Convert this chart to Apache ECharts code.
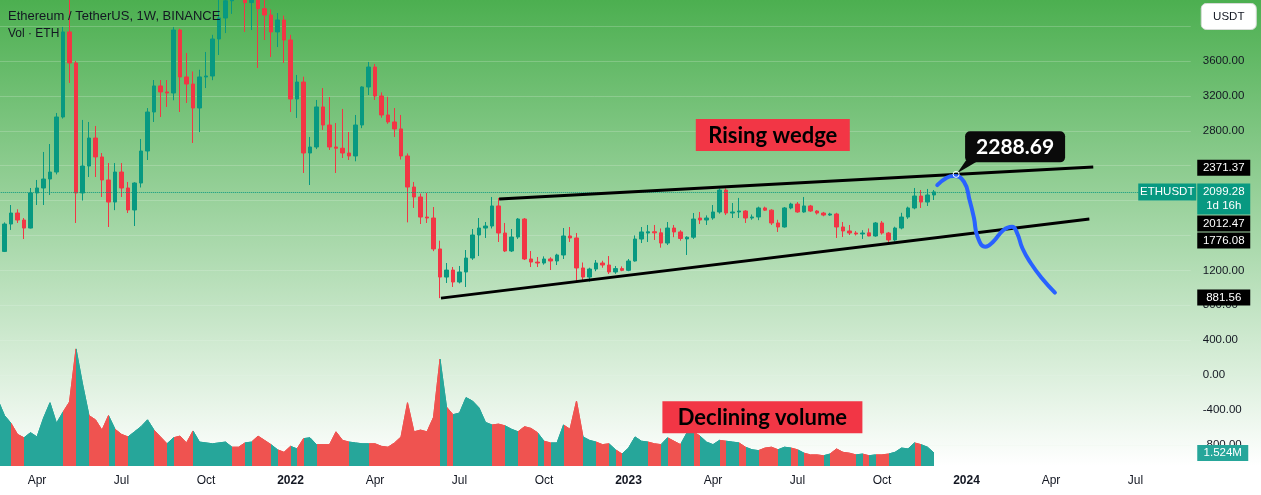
<!DOCTYPE html>
<html>
<head>
<meta charset="utf-8">
<script src="https://cdn.jsdelivr.net/npm/echarts@6/dist/echarts.min.js"></script>
<style>
html,body{margin:0;padding:0;background:#fff;}
#c{width:1261px;height:495px;background:linear-gradient(180deg,#4caf50 0px,#ffffff 466px,#ffffff 495px);}
</style>
</head>
<body>
<div id="c"></div>
<script>
// ---------------- DATA ----------------
const firstWeek = '2021-02-22';          // Monday of first weekly bar
const weekCount = 184;                    // weeks shown on the time axis (incl. empty future)
const opens = [1935,1417,1731,1857,1777,1685,2087,2144,2247,2327,
2958,3933,3577,2087,2396,2717,2500,2236,1983,2327,
2144,1892,2201,2568,3015,3314,3245,3233,3955,3417,
3336,3061,3417,3428,3852,4093,4290,4620,4570,4270,
4450,4200,4127,3933,4070,3841,3164,3359,2545,2614,
3073,2866,2614,2600,2545,2511,2866,3302,3531,3199,
2981,2901,2821,2511,2155,2041,1811,1800,1445,1123,
1203,1066,1181,1341,1605,1685,1708,1938,1628,1422,
1582,1788,1330,1295,1284,1330,1307,1376,1594,1571,
1227,1123,1215,1284,1261,1181,1220,1200,1307,1559,
1628,1642,1630,1513,1685,1640,1560,1580,1800,1777,
1800,1869,2120,1857,1869,1880,1800,1812,1915,1890,
1743,1697,1915,1960,1869,1938,1880,1857,1834,1846,
1697,1651,1628,1617,1630,1594,1743,1628,1548,1685,
1811,1915,2052,1983,2064];
const highs = [1940,1750,1949,1900,1800,2144,2236,2557,2648,3004,
3990,4372,3600,2924,2901,2855,2545,2430,2430,2430,
2213,2210,2706,3060,3382,3382,3382,3990,3970,3692,
3480,3500,3703,3900,4375,4460,4665,4868,4770,4550,
4780,4400,4190,4150,4120,3900,3440,3420,2729,3153,
3290,3187,2889,3050,2786,2981,3310,3589,3566,3240,
3190,3061,2981,2540,2213,2080,2087,1926,1540,1284,
1238,1250,1433,1674,1800,1754,2041,2030,1743,1674,
1800,1800,1422,1353,1360,1350,1390,1685,1697,1628,
1290,1230,1318,1310,1364,1250,1245,1330,1600,1697,
1720,1720,1680,1754,1720,1660,1590,1857,1869,1830,
1949,2140,2140,1972,2030,1890,1840,1930,1930,1900,
1780,1926,1975,1983,2041,1950,1890,1870,1860,1860,
1754,1720,1650,1660,1680,1754,1766,1640,1700,1860,
1930,2144,2121,2133,2121];
const lows = [1370,1410,1663,1743,1559,1680,1949,1949,2064,2300,
2940,3348,1743,2000,2270,2270,2041,1697,1890,2041,
1857,1708,2150,2465,2901,2958,3073,3150,3015,3119,
2660,2785,3290,3380,3669,3920,4140,4500,3933,3955,
3520,3841,3646,3760,3577,3015,2947,2316,2178,2590,
2810,2580,2316,2488,2465,2450,2830,3210,3153,2950,
2880,2729,2470,1750,1915,1731,1743,1420,881.56,1055,
1009,1050,1009,1320,1364,1571,1680,1525,1410,1410,
1560,1318,1238,1238,1265,1204,1261,1330,1525,1066,
1089,1070,1190,1230,1158,1160,1190,1190,1300,1513,
1525,1548,1460,1490,1580,1540,1376,1560,1731,1720,
1780,1850,1834,1800,1800,1743,1780,1775,1880,1720,
1640,1690,1900,1860,1860,1870,1840,1820,1825,1571,
1582,1605,1600,1560,1590,1585,1610,1525,1530,1670,
1790,1900,1915,1938,2006];
const closes = [1417,1731,1857,1777,1685,2087,2144,2247,2327,2958,
3933,3577,2087,2396,2717,2500,2236,1983,2327,2144,
1892,2201,2568,3015,3314,3245,3233,3955,3417,3336,
3061,3417,3428,3852,4093,4290,4620,4570,4270,4450,
4200,4127,3933,4070,3841,3164,3359,2545,2614,3073,
2866,2614,2600,2545,2511,2866,3302,3531,3199,2981,
2901,2821,2511,2155,2041,1811,1800,1445,1123,1203,
1066,1181,1341,1605,1685,1708,1938,1628,1422,1582,
1788,1330,1295,1284,1330,1307,1376,1594,1571,1227,
1123,1215,1284,1261,1181,1220,1200,1307,1559,1640,
1642,1630,1513,1685,1640,1565,1580,1788,1777,1800,
1869,2120,1857,1869,1880,1800,1812,1915,1890,1743,
1697,1915,1960,1869,1938,1880,1857,1834,1846,1697,
1651,1628,1617,1628,1594,1743,1628,1548,1685,1811,
1915,2052,1983,2064,2099.28];
// weekly volume, millions of ETH
const volumes = [7.7,5.9,5.0,3.7,3.3,3.9,3.4,5.6,7.4,5.0,
6.3,7.5,13.7,9.6,5.9,5.4,4.2,5.9,4.3,3.7,
3.4,4.0,4.6,5.4,4.2,3.4,2.6,3.3,3.5,2.7,
4.1,2.8,2.7,2.6,2.7,2.8,2.2,2.2,2.7,2.8,
3.5,3.0,2.5,1.9,1.6,2.3,2.0,3.2,3.3,2.5,
2.5,2.5,4.0,3.0,2.8,2.7,2.6,2.6,2.6,2.3,
2.2,2.7,3.4,7.4,4.0,4.2,4.0,5.7,12.5,6.9,
6.0,6.2,8.0,7.6,6.8,5.1,4.8,4.9,4.7,4.3,
4.0,4.6,4.4,3.9,2.9,2.7,2.7,4.8,4.3,7.6,
3.4,3.0,2.8,2.5,2.6,1.9,1.4,2.1,3.4,2.9,
2.8,2.6,2.5,3.3,2.9,2.5,3.9,4.0,3.5,2.8,
2.5,3.0,2.9,2.8,2.7,2.2,1.9,1.8,2.1,2.2,
1.9,2.2,2.1,1.9,1.5,1.3,1.3,1.2,1.4,2.0,
1.6,1.5,1.3,1.4,1.2,1.3,1.3,1.4,1.6,2.1,
2.0,2.7,2.5,2.2,1.524];
// drawn trendlines: [week index, price]
const upperWedge = [[77.1, 2018], [168.5, 2385]];
const lowerWedge = [[68.15, 881.56], [167.9, 1789]];
// hand-drawn forecast path: [week index, price]
const forecastPath = [[144.5,2178],[145.95,2262],[147.0,2282],[148.6,2216],[149.5,1997],[150.15,1800],
[150.7,1586],[151.9,1471],[153.1,1528],[154.7,1663],[156.0,1700],[156.8,1625],[157.6,1453],
[158.9,1281],[160.6,1109],[162.6,944]];
const lastPrice = 2099.28;
const lastVolume = 1.524;
const priceTags = [2371.37, 2012.47, 1776.08, 881.56];
const hiddenTicks = [4400, 4000, 2400, 2000, 1600];
const calloutText = '2288.69';
const calloutIndex = 147.4;
const monthNames = ['Jan','Feb','Mar','Apr','May','Jun','Jul','Aug','Sep','Oct','Nov','Dec'];

// ---------------- BUILD ----------------
const UP = '#089981', DOWN = '#F23645', VUP = '#26A69A', VDOWN = '#EF5350';
const AXF = '"Liberation Sans", Arial, sans-serif';
const weeks = [];
{
  const d0 = Date.parse(firstWeek + 'T00:00:00Z');
  for (let i = 0; i < weekCount; i++) weeks.push(new Date(d0 + i * 7 * 86400000).toISOString().slice(0, 10));
}
const candles = opens.map((o, i) => [o, closes[i], lows[i], highs[i]]);
const isUp = opens.map((o, i) => closes[i] >= o);
const pieces = [];
{
  let s = 0;
  for (let i = 1; i <= isUp.length; i++) {
    if (i === isUp.length || isUp[i] !== isUp[s]) {
      pieces.push({gt: s - 1, lte: i - 1, color: isUp[s] ? VUP : VDOWN});
      s = i;
    }
  }
}
const gridLeft = -5.25, gridRight = 70.25;
const chart = echarts.init(document.getElementById('c'), null, {renderer: 'canvas'});
const option = {
  backgroundColor: 'transparent',
  animation: false,
  grid: [
    {left: gridLeft, right: gridRight, top: -8.8, bottom: 50.2, outerBoundsMode: 'none', containLabel: false},
    {left: gridLeft, right: gridRight, top: 300, bottom: 29, outerBoundsMode: 'none', containLabel: false}
  ],
  xAxis: [
    {type: 'category', gridIndex: 0, data: weeks, show: false},
    {type: 'category', gridIndex: 1, data: weeks, axisLine: {show: false}, axisTick: {show: false}, splitLine: {show: false},
      axisLabel: {
        margin: 9, color: '#131722', fontSize: 12, fontFamily: AXF,
        interval: (idx, val) => { const d = new Date(val + 'T00:00:00Z'); return d.getUTCDate() <= 7 && d.getUTCMonth() % 3 === 0; },
        formatter: (val) => { const d = new Date(val + 'T00:00:00Z'); const m = d.getUTCMonth(); return m === 0 ? '{y|' + d.getUTCFullYear() + '}' : monthNames[m]; },
        rich: {y: {fontWeight: 'bold', fontSize: 12, fontFamily: AXF, color: '#131722'}}
      }},
    {type: 'value', gridIndex: 0, min: -0.5, max: weekCount - 0.5, show: false}
  ],
  yAxis: [
    {type: 'value', gridIndex: 0, position: 'right', min: -800, max: 4400, interval: 400,
      axisLine: {show: false}, axisTick: {show: false},
      axisLabel: {margin: 12, color: '#131722', fontSize: 11.5, fontFamily: AXF,
        formatter: v => hiddenTicks.indexOf(v) >= 0 ? '' : v.toFixed(2)},
      splitLine: {show: true, lineStyle: {color: 'rgba(235,245,235,0.22)', width: 1}}},
    {type: 'value', gridIndex: 1, min: 0, max: 19.42, show: false}
  ],
  visualMap: {type: 'piecewise', show: false, dimension: 0, seriesIndex: 1, pieces: pieces},
  series: [
    {type: 'candlestick', xAxisIndex: 0, yAxisIndex: 0, data: candles, barWidth: 4, z: 3,
      itemStyle: {color: UP, color0: DOWN, borderColor: UP, borderColor0: DOWN, borderWidth: 1},
      markLine: {silent: true, symbol: 'none', label: {show: false}, animation: false,
        lineStyle: {type: 'dotted', color: UP, width: 1}, data: [{yAxis: lastPrice}]}},
    {type: 'line', xAxisIndex: 1, yAxisIndex: 1, data: volumes, symbol: 'none', smooth: false,
      lineStyle: {width: 1}, areaStyle: {opacity: 1}, z: 2},
    {type: 'line', xAxisIndex: 2, yAxisIndex: 0, data: upperWedge, symbol: 'none', z: 5,
      lineStyle: {color: '#000', width: 3}},
    {type: 'line', xAxisIndex: 2, yAxisIndex: 0, data: lowerWedge, symbol: 'none', z: 5,
      lineStyle: {color: '#000', width: 3}},
    {type: 'line', xAxisIndex: 2, yAxisIndex: 0, data: forecastPath, symbol: 'none', smooth: 0.5, z: 6,
      lineStyle: {color: '#2962FF', width: 4, cap: 'round', join: 'round'}}
  ]
};
chart.setOption(option);

// ---------------- ANNOTATIONS ----------------
const P = (ix, price) => chart.convertToPixel({seriesIndex: 2}, [ix, price]);
const PY = price => chart.convertToPixel({yAxisIndex: 0}, price);
const VY = v => chart.convertToPixel({yAxisIndex: 1}, v);
const PX = ix => chart.convertToPixel({xAxisIndex: 2}, ix);
const g = [];
function txt(x, y, text, font, fill, align) {
  g.push({type: 'text', x: x, y: y, z: 100, style: {text: text, font: font, fill: fill, align: align || 'center', verticalAlign: 'middle'}});
}
function box(x, y, w, h, fill, r, stroke) {
  g.push({type: 'rect', z: 99, shape: {x: x, y: y, width: w, height: h, r: r || 0}, style: {fill: fill, stroke: stroke || null, lineWidth: 1}});
}
// legend
txt(8, 16, 'Ethereum / TetherUS, 1W, BINANCE', '13px ' + AXF, '#131722', 'left');
txt(8, 34, 'Vol · ETH', '12px ' + AXF, '#131722', 'left');
// currency button
const axisX = 1261 - gridRight;
box(axisX + 10.5, 3.5, 55, 26, '#ffffff', 5, '#d6dbd6');
txt(axisX + 38, 17, 'USDT', '11.5px ' + AXF, '#131722');
// price-scale tags with collision push-down
const tags = priceTags.map(v => ({v: v, y: PY(v), h: 16, kind: 'plain'}));
tags.push({v: lastPrice, y: PY(lastPrice), h: 31, kind: 'last'});
tags.sort((a, b) => a.y - b.y);
let prevBottom = -Infinity;
tags.forEach(t => {
  let top = t.y - 8.5;
  if (top < prevBottom + 1) top = prevBottom + 1;
  t.top = top; prevBottom = top + t.h;
});
const tagX = axisX + 6.5, tagW = 53;
tags.forEach(t => {
  if (t.kind === 'last') {
    box(tagX, t.top, tagW, t.h, UP, 0);
    txt(tagX + tagW / 2, t.top + 8.5, t.v.toFixed(2), '11.5px ' + AXF, '#fff');
    txt(tagX + tagW / 2, t.top + 22.5, '1d 16h', '11.5px ' + AXF, '#fff');
    box(tagX - 59, t.top, 58, 17, UP, 0);
    txt(tagX - 30, t.top + 8.5, 'ETHUSDT', '11.5px ' + AXF, '#fff');
  } else {
    box(tagX, t.top, tagW, t.h, '#000', 0);
    txt(tagX + tagW / 2, t.top + 8, t.v.toFixed(2), '11.5px ' + AXF, '#fff');
  }
});
// volume tag
{
  const vy = Math.min(VY(lastVolume), 456);
  box(tagX, vy - 8, 51, 16, VUP, 0);
  txt(tagX + 25.5, vy, lastVolume.toFixed(3) + 'M', '11.5px ' + AXF, '#fff');
}
// "Rising wedge" label
{
  const p = P(119.2, 2752);
  box(p[0] - 77, p[1] - 16, 154, 32, DOWN, 0);
  txt(p[0], p[1] + 1, 'Rising wedge', 'bold 22px Lato, sans-serif', '#000');
}
// "Declining volume" label
{
  const x = PX(117.6), y = VY(5.7);
  box(x - 100, y - 16, 200, 32, DOWN, 0);
  txt(x, y + 1, 'Declining volume', 'bold 22px Lato, sans-serif', '#000');
}
// price callout on the upper wedge line
{
  const a = upperWedge[0], b = upperWedge[1];
  const price = a[1] + (b[1] - a[1]) * (calloutIndex - a[0]) / (b[0] - a[0]);
  const p = P(calloutIndex, price);
  g.push({type: 'polygon', z: 99, shape: {points: [[p[0] + 10, p[1] - 14], [p[0] + 23, p[1] - 14], [p[0] + 1, p[1] - 1]]}, style: {fill: '#0a0a0a'}});
  box(p[0] + 9, p[1] - 43, 100, 31, '#0a0a0a', 5);
  txt(p[0] + 59, p[1] - 27, calloutText, 'bold 21px Lato, sans-serif', '#ffffff');
  g.push({type: 'circle', z: 101, shape: {cx: p[0], cy: p[1], r: 3}, style: {fill: 'rgba(0,0,0,0)', stroke: '#ffffff', lineWidth: 1}});
}
chart.setOption({graphic: g});
</script>
</body>
</html>
